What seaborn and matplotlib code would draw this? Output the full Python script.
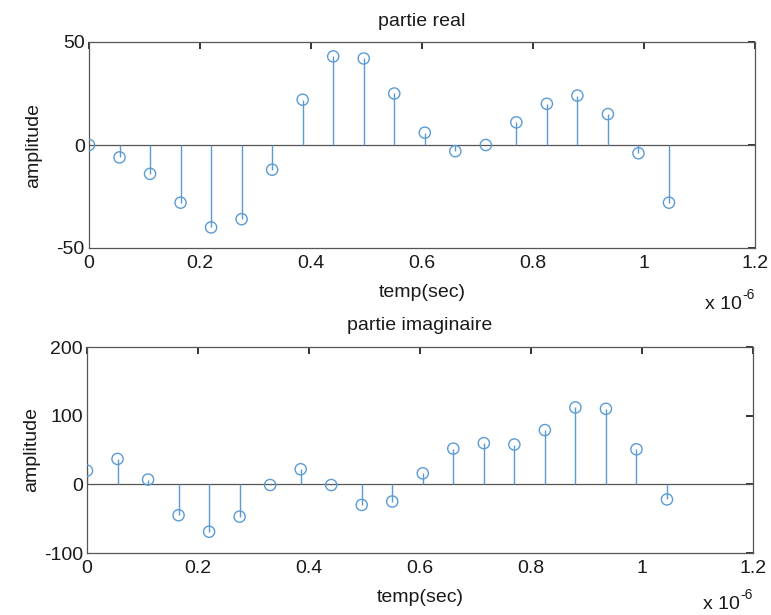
import numpy as np
import pandas as pd
import seaborn as sns
import matplotlib.pyplot as plt

# sample times (in microseconds)
temps = [0, 0.055, 0.11, 0.165, 0.22, 0.275, 0.33, 0.385, 0.44, 0.495,
         0.55, 0.605, 0.66, 0.715, 0.77, 0.825, 0.88, 0.935, 0.99, 1.045]

# real and imaginary parts
partie_real = [0, -6, -14, -28, -40, -36, -12, 22, 43, 42,
               25, 6, -3, 0, 11, 20, 24, 15, -4, -28]
partie_imag = [20, 37, 7, -45, -69, -47, -1, 22, -1, -30,
               -25, 16, 52, 60, 58, 79, 112, 110, 51, -22]

xticks = [0, 0.2, 0.4, 0.6, 0.8, 1, 1.2]
xticklabels = ["0", "0.2", "0.4", "0.6", "0.8", "1", "1.2"]

sns.set_theme(style="white")
plt.rcParams['font.family'] = ['Liberation Sans', 'DejaVu Sans']
plt.rcParams['axes.unicode_minus'] = False

stem_col = "#5b9bd5"
txt_col = "#1a1a1a"
df = pd.DataFrame({"t": temps, "re": partie_real, "im": partie_imag})

fig = plt.figure(figsize=(7.71, 6.15), dpi=100)
ax1 = fig.add_axes([89 / 771, 1 - 248 / 615, 666 / 771, 206 / 615])
ax2 = fig.add_axes([87 / 771, 1 - 553 / 615, 666 / 771, 206 / 615])


def stem(ax, col, ylim, yticks, title, exp_y):
    ax.axhline(0, color="#555555", lw=0.9, zorder=1)
    ax.vlines(df["t"], 0, df[col], color=stem_col, lw=1.0, zorder=2)
    sns.scatterplot(data=df, x="t", y=col, ax=ax, marker="o", s=65,
                    facecolors="none", edgecolor=stem_col, linewidth=1.0,
                    zorder=3, legend=False)
    ax.set_xlim(0, 1.2)
    ax.set_ylim(*ylim)
    ax.set_xticks(xticks)
    ax.set_xticklabels(xticklabels)
    ax.set_yticks(yticks)
    ax.tick_params(direction="in", top=True, right=True, length=5,
                   labelsize=14, colors=txt_col, pad=5)
    ax.tick_params(axis="y", pad=3)
    for s in ax.spines.values():
        s.set_color("#555555")
        s.set_linewidth(0.9)
    ax.set_title(title, fontsize=14, color=txt_col, pad=0,
                 y=1 + 21 / 206, va="center")
    ax.set_xlabel("temp(sec)", fontsize=14, color=txt_col)
    ax.xaxis.set_label_coords(0.5, -44 / 206)
    ax.xaxis.label.set_va("center")
    ax.set_ylabel("amplitude", fontsize=14, color=txt_col)
    ax.yaxis.set_label_coords(-55 / 666, 0.5)
    ax.yaxis.label.set_va("center")
    # MATLAB style exponent label
    ax.text(0.98, exp_y, "x 10", transform=ax.transAxes,
            ha="right", va="baseline", fontsize=14, color=txt_col)
    ax.annotate("-6", xy=(0.98, exp_y), xycoords="axes fraction",
                xytext=(0.5, 7), textcoords="offset points",
                ha="left", va="baseline", fontsize=10, color=txt_col)


stem(ax1, "re", (-50, 50), [-50, 0, 50], "partie real", -61 / 206)
stem(ax2, "im", (-100, 200), [-100, 0, 100, 200], "partie imaginaire",
     -56 / 206)

plt.savefig("out.png", dpi=100)
